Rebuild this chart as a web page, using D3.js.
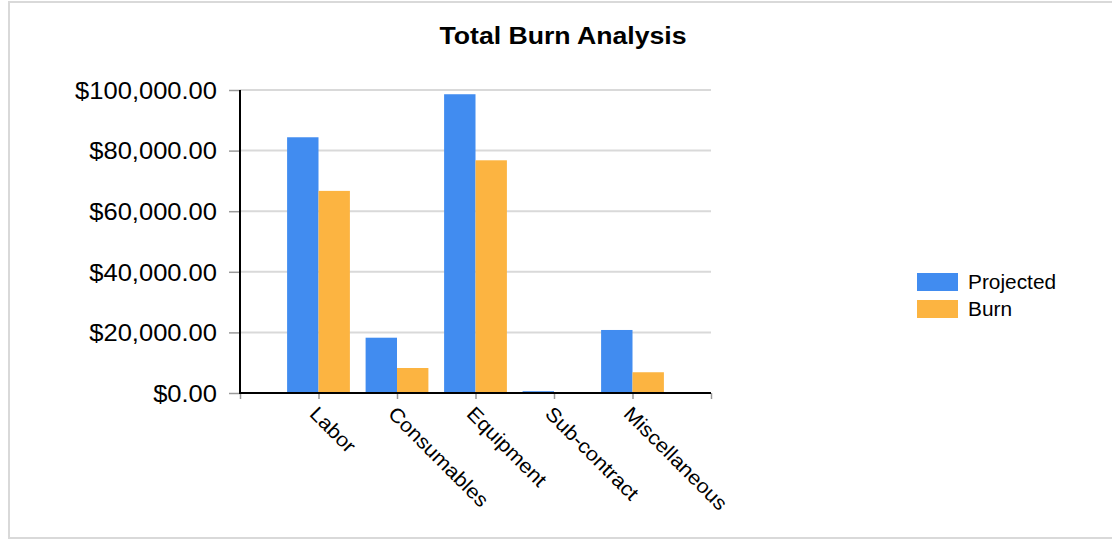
<!DOCTYPE html>
<html>
<head>
<meta charset="utf-8">
<script src="https://cdn.jsdelivr.net/npm/d3@7"></script>
<style>
  html, body { margin: 0; padding: 0; background: #fff; }
  svg { display: block; }
  text { font-family: "Liberation Sans", Arial, sans-serif; fill: #000; }
</style>
</head>
<body>
<svg id="chart" width="1112" height="540"></svg>
<script>
// Cost categories and the two series (US$)
const categories = ["Labor", "Consumables", "Equipment", "Sub-contract", "Miscellaneous"];
const projected  = [84400, 18250, 98600, 600, 20800];
const burn       = [66700, 8250, 76800, 0, 6850];
const seriesNames = ["Projected", "Burn"];
const seriesColors = ["#418CF0", "#FCB441"];
const yTicks = [0, 20000, 40000, 60000, 80000, 100000];

const W = 1112, H = 540;
const plot = { left: 240, right: 711, top: 90, bottom: 393 };

const svg = d3.select("#chart");

// widen text along its baseline, keeping its anchor point
function widen(sel, k) {
  sel.each(function () {
    const t = d3.select(this);
    const x = +t.attr("x") || 0, y = +t.attr("y") || 0;
    t.attr("x", 0).attr("y", 0)
     .attr("transform", `translate(${x},${y}) scale(${k},1)`);
  });
}

// outer frame
svg.append("rect")
  .attr("x", 9).attr("y", 2)
  .attr("width", W + 10).attr("height", H - 4)
  .attr("fill", "#fff").attr("stroke", "#d9d9d9").attr("stroke-width", 2);

// title
svg.append("text")
  .attr("x", 563).attr("y", 43.5)
  .attr("text-anchor", "middle")
  .style("font-size", "24px").style("font-weight", "bold")
  .text("Total Burn Analysis")
  .call(widen, 1.11);

// scales
const y = d3.scaleLinear().domain([0, 100000]).range([plot.bottom, plot.top]);
const x = d3.scalePoint().domain(categories).range([plot.left, plot.right]).padding(1);
const step = x.step();
const barW = step * 0.4;
const xEdge = d3.scaleLinear().domain([0, categories.length + 1]).range([plot.left, plot.right]);

// gridlines
svg.append("g").selectAll("line")
  .data(yTicks.filter(d => d > 0))
  .join("line")
  .attr("x1", plot.left).attr("x2", plot.right)
  .attr("y1", d => y(d)).attr("y2", d => y(d))
  .attr("stroke", "#d9d9d9").attr("stroke-width", 2);

// bars
const series = [projected, burn];
const groups = svg.append("g");
series.forEach((vals, s) => {
  groups.append("g").selectAll("rect")
    .data(categories.map((c, i) => ({ c, v: vals[i] })))
    .join("rect")
    .attr("x", d => x(d.c) - barW + s * barW)
    .attr("width", barW)
    .attr("y", d => y(d.v))
    .attr("height", d => y(0) - y(d.v))
    .attr("fill", seriesColors[s]);
});

// y axis
const yAxis = svg.append("g")
  .attr("transform", `translate(${plot.left},0)`)
  .call(d3.axisLeft(y).tickValues(yTicks).tickSize(11).tickPadding(12)
        .tickFormat(d3.format("$,.2f")));
yAxis.select(".domain").remove();
yAxis.selectAll(".tick line").attr("stroke", "#999").attr("stroke-width", 1.5);
yAxis.selectAll(".tick text")
  .attr("fill", "#000").attr("font-family", null)
  .style("font-size", "23px").attr("dy", "0.36em");
yAxis.selectAll(".tick text").each(function () {
  const t = d3.select(this);
  const xx = +t.attr("x");
  t.attr("x", 0).attr("transform", `translate(${xx},0) scale(1.11,1)`);
});

// x axis ticks on the category boundaries
const xAxis = svg.append("g")
  .attr("transform", `translate(0,${plot.bottom})`)
  .call(d3.axisBottom(xEdge).tickValues(d3.range(categories.length + 2))
        .tickSize(6).tickFormat(""));
xAxis.select(".domain").remove();
xAxis.selectAll(".tick line").attr("stroke", "#999").attr("stroke-width", 1.5);

// axis lines
svg.append("line")
  .attr("x1", plot.left).attr("x2", plot.left)
  .attr("y1", plot.top).attr("y2", plot.bottom + 1)
  .attr("stroke", "#000").attr("stroke-width", 2);
svg.append("line")
  .attr("x1", plot.left - 1).attr("x2", plot.right)
  .attr("y1", plot.bottom).attr("y2", plot.bottom)
  .attr("stroke", "#000").attr("stroke-width", 2);

// slanted category labels
svg.append("g").selectAll("text")
  .data(categories)
  .join("text")
  .attr("transform", d => `translate(${x(d) - 10},${plot.bottom + 22}) rotate(45) scale(1.08,1)`)
  .attr("text-anchor", "start")
  .style("font-size", "20px")
  .text(d => d);

// legend
const legend = svg.append("g").attr("transform", "translate(917,273)");
seriesNames.forEach((name, i) => {
  const row = legend.append("g").attr("transform", `translate(0,${i * 27})`);
  row.append("rect").attr("width", 41).attr("height", 18).attr("fill", seriesColors[i]);
  row.append("text").attr("x", 51).attr("y", 15.5)
    .style("font-size", "19.5px").text(name).call(widen, 1.07);
});
</script>
</body>
</html>
